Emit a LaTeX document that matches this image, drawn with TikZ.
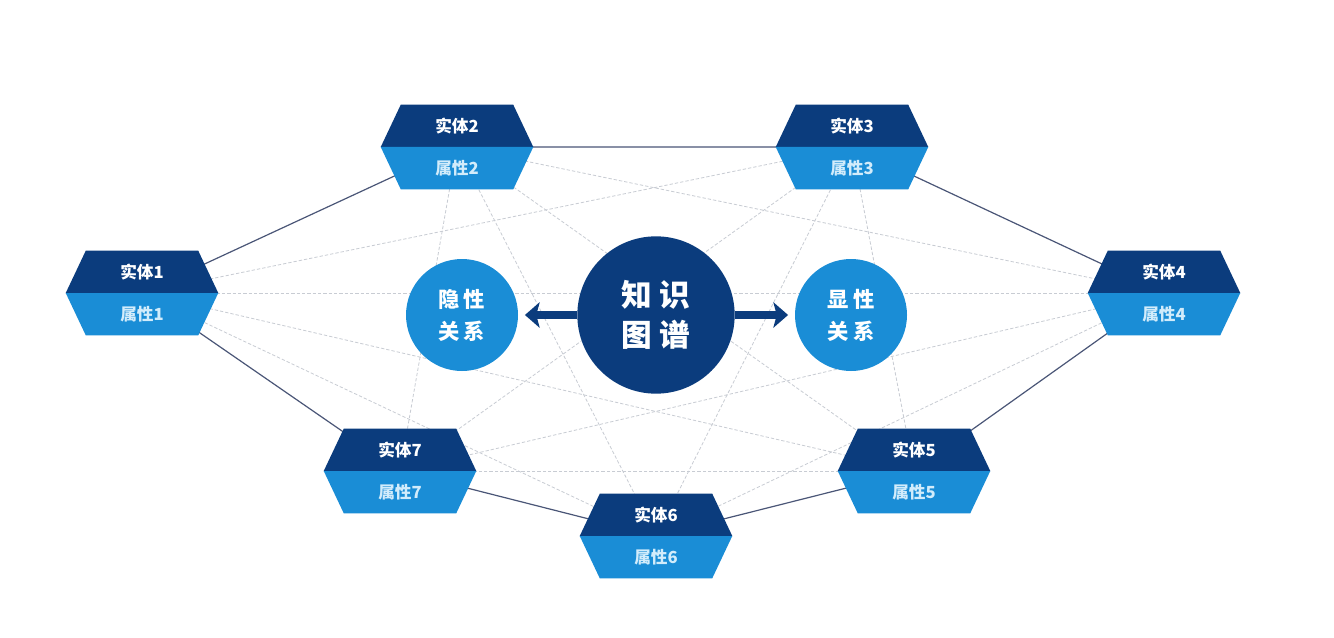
\documentclass[tikz,border=0pt]{standalone}
\usepackage{fontspec}
\setmainfont{Noto Sans CJK SC}
\usetikzlibrary{arrows.meta,backgrounds}
\definecolor{navy}{HTML}{0B3C7D}
\definecolor{skyblue}{HTML}{1A8DD6}
\definecolor{ringline}{HTML}{4A5677}
\definecolor{meshline}{HTML}{C8CCD3}
\definecolor{attrtext}{HTML}{D2ECFB}
\newcommand{\ent}[1]{\textcolor{white}{实体#1}\\\textcolor{attrtext}{属性#1}}
\begin{document}
\begin{tikzpicture}[x=0.75pt,y=-0.75pt,
  entity/.style={minimum width=114pt,minimum height=63pt,inner sep=0pt,align=center,font=\bfseries\fontsize{12.5}{31.5}\selectfont},
  relation/.style={circle,fill=skyblue,minimum size=84pt,inner sep=0pt,text=white,align=center,font=\bfseries\fontsize{16}{24}\selectfont},
  core/.style={circle,fill=navy,minimum size=118pt,inner sep=0pt,text=white,align=center,font=\bfseries\fontsize{23}{30}\selectfont},
  ring/.style={ringline,line width=0.9pt},
  mesh/.style={meshline,line width=0.6pt,dash pattern=on 2.5pt off 1.5pt},
  bigarrow/.style={navy,line width=6.5pt,-{Stealth[length=11pt,width=19pt,inset=2.5pt]},shorten >=5pt}]
\useasboundingbox (0,0) rectangle (1334,638);
% entities
\node[entity] (e1) at (142,293) {\ent{1}};
\node[entity] (e2) at (457,147) {\ent{2}};
\node[entity] (e3) at (852,147) {\ent{3}};
\node[entity] (e4) at (1164,293) {\ent{4}};
\node[entity] (e5) at (914,471) {\ent{5}};
\node[entity] (e6) at (656,536) {\ent{6}};
\node[entity] (e7) at (400,471) {\ent{7}};
% centre
\node[core] (kg) at (656,315) {知\kern6pt识\\图\kern6pt谱};
\node[relation] (implicit) at (462,315) {隐\kern3pt性\\关\kern3pt系};
\node[relation] (explicit) at (851,315) {显\kern3pt性\\关\kern3pt系};
\draw[bigarrow] (kg) -- (implicit);
\draw[bigarrow] (kg) -- (explicit);
\begin{scope}[on background layer]
\fill[white] (0,0) rectangle (1334,638);
\foreach \a/\b in {e1/e3,e1/e4,e1/e5,e1/e6,e2/e4,e2/e5,e2/e6,e2/e7,e3/e5,e3/e6,e3/e7,e4/e6,e4/e7,e5/e7}
  \draw[mesh] (\a.center) -- (\b.center);
\draw[ring] (e1.center) -- (e2.center) -- (e3.center) -- (e4.center) -- (e5.center) -- (e6.center) -- (e7.center) -- cycle;
% hexagon halves
\foreach \n in {e1,e2,e3,e4,e5,e6,e7} {
  \fill[navy] ([xshift=15pt]\n.north west) -- ([xshift=-15pt]\n.north east) -- (\n.east) -- (\n.west) -- cycle;
  \fill[skyblue] (\n.west) -- (\n.east) -- ([xshift=-15pt]\n.south east) -- ([xshift=15pt]\n.south west) -- cycle;
}
\end{scope}
\end{tikzpicture}
\end{document}
